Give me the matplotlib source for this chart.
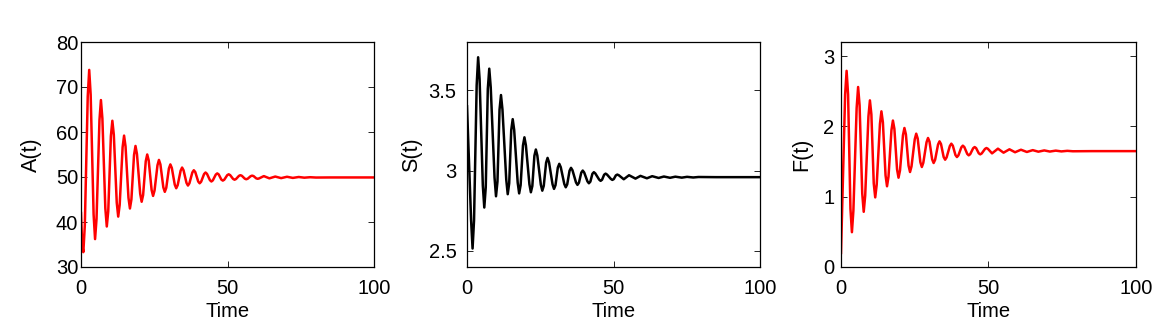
#!/usr/bin/env python3

import matplotlib

matplotlib.use("Agg")
import matplotlib.pyplot as plt

# A(t): values (extrema plus a point each side of them)
time_a = [0.0, 0.4, 0.8, 1.3, 2.3, 2.8, 3.3, 4.3, 4.8, 5.3, 6.3, 6.8, 7.3,
          8.3, 8.8, 9.3, 10.2, 10.7, 11.2, 12.2, 12.7, 13.2, 14.2, 14.7, 15.2,
          16.2, 16.7, 17.2, 18.1, 18.6, 19.1, 20.2, 20.7, 21.2, 22.1, 22.6,
          23.1, 24.1, 24.6, 25.1, 26.1, 26.6, 27.1, 28.1, 28.6, 29.1, 30.0,
          30.5, 31.0, 32.0, 32.5, 33.0, 34.0, 34.5, 35.0, 36.0, 36.5, 37.0,
          38.0, 38.5, 39.0, 40.0, 40.5, 41.0, 42.0, 42.5, 43.0, 44.0, 44.5,
          45.0, 46.0, 46.5, 47.0, 47.9, 48.4, 48.9, 49.9, 50.4, 50.9, 51.9,
          52.4, 52.9, 53.9, 54.4, 54.9, 55.9, 56.4, 56.9, 57.9, 58.4, 58.9,
          59.8, 60.3, 60.8, 62.4, 64.3, 66.3, 68.3, 70.3, 72.3, 74.3, 76.2,
          78.2, 80.2, 85.0, 100.0]
values_a = [42.0, 35.0, 33.3, 39.2, 67.9, 73.8, 68.3, 41.7, 36.2, 40.7, 62.6,
            67.1, 63.0, 43.1, 39.0, 42.4, 59.1, 62.5, 59.4, 44.3, 41.2, 43.8,
            56.6, 59.2, 56.8, 45.4, 43.0, 45.0, 54.9, 56.9, 55.1, 46.3, 44.5,
            46.0, 53.5, 55.0, 53.7, 47.1, 45.8, 47.0, 52.6, 53.8, 52.8, 47.7,
            46.7, 47.6, 51.9, 52.8, 52.0, 48.3, 47.5, 48.2, 51.4, 52.1, 51.5,
            48.7, 48.1, 48.6, 51.0, 51.5, 51.1, 49.0, 48.6, 48.95, 50.65, 51.0,
            50.7, 49.3, 49.0, 49.26, 50.54, 50.8, 50.57, 49.43, 49.2, 49.4,
            50.4, 50.6, 50.42, 49.58, 49.4, 49.55, 50.25, 50.4, 50.27, 49.63,
            49.5, 49.62, 50.18, 50.3, 50.2, 49.7, 49.6, 49.69, 50.2, 49.7,
            50.1, 49.75, 50.05, 49.8, 50.0, 49.85, 49.95, 49.88, 49.9, 49.9]

# S(t)
time_s = [0.0, 1.4, 1.9, 2.4, 3.3, 3.8, 4.3, 5.4, 5.9, 6.4, 7.1, 7.6, 8.1,
          9.4, 9.9, 10.4, 11.1, 11.6, 12.1, 13.4, 13.9, 14.4, 15.1, 15.6,
          16.1, 17.3, 17.8, 18.3, 19.1, 19.6, 20.1, 21.3, 21.8, 22.3, 23.0,
          23.5, 24.0, 25.2, 25.7, 26.2, 27.0, 27.5, 28.0, 29.2, 29.7, 30.2,
          31.0, 31.5, 32.0, 33.2, 33.7, 34.2, 35.0, 35.5, 36.0, 37.2, 37.7,
          38.2, 39.0, 39.5, 40.0, 41.1, 41.6, 42.1, 42.8, 43.3, 43.8, 45.1,
          45.6, 46.1, 46.8, 47.3, 47.8, 49.1, 49.6, 50.1, 50.8, 51.3, 51.8,
          53.5, 55.3, 57.5, 59.2, 61.4, 63.2, 65.4, 67.2, 69.3, 71.1, 73.3,
          75.1, 77.2, 79.0, 85.0, 100.0]
values_s = [3.40, 2.69, 2.515, 2.69, 3.531, 3.705, 3.568, 2.907, 2.77, 2.896,
            3.508, 3.634, 3.518, 2.956, 2.84, 2.932, 3.378, 3.47, 3.38, 2.943,
            2.853, 2.921, 3.252, 3.32, 3.253, 2.925, 2.858, 2.909, 3.156,
            3.207, 3.157, 2.915, 2.865, 2.904, 3.092, 3.131, 3.094, 2.912,
            2.875, 2.905, 3.049, 3.079, 3.051, 2.914, 2.886, 2.909, 3.019,
            3.042, 3.021, 2.917, 2.896, 2.914, 2.999, 3.017, 3.002, 2.926,
            2.911, 2.924, 2.987, 3.000, 2.988, 2.933, 2.921, 2.931, 2.980,
            2.990, 2.982, 2.944, 2.936, 2.943, 2.974, 2.981, 2.975, 2.948,
            2.942, 2.947, 2.970, 2.975, 2.971, 2.946, 2.971, 2.950, 2.967,
            2.952, 2.965, 2.954, 2.963, 2.955, 2.962, 2.956, 2.961, 2.957,
            2.960, 2.959, 2.959]

# F(t)
time_f = [0.0, 1.4, 1.9, 2.4, 3.2, 3.7, 4.2, 5.3, 5.8, 6.3, 7.2, 7.7, 8.2,
          9.3, 9.8, 10.3, 11.1, 11.6, 12.1, 13.2, 13.7, 14.2, 15.1, 15.6,
          16.1, 17.1, 17.6, 18.1, 19.0, 19.5, 20.0, 21.0, 21.5, 22.0, 22.9,
          23.4, 23.9, 25.0, 25.5, 26.0, 26.9, 27.4, 27.9, 29.0, 29.5, 30.0,
          30.9, 31.4, 31.9, 32.9, 33.4, 33.9, 34.8, 35.3, 35.8, 36.9, 37.4,
          37.9, 38.8, 39.3, 39.8, 40.8, 41.3, 41.8, 42.8, 43.3, 43.8, 44.8,
          45.3, 45.8, 46.7, 47.2, 47.7, 48.8, 49.3, 49.8, 51.2, 53.2, 55.1,
          57.1, 59.0, 61.0, 63.0, 65.0, 66.9, 68.9, 70.8, 72.8, 74.7, 76.7,
          78.6, 85.0, 100.0]
values_f = [0.20, 2.455, 2.79, 2.455, 0.83, 0.495, 0.80, 2.26, 2.56, 2.30,
            1.045, 0.785, 1.015, 2.14, 2.37, 2.17, 1.19, 0.99, 1.17, 2.034,
            2.214, 2.058, 1.304, 1.148, 1.285, 1.946, 2.083, 1.964, 1.389,
            1.27, 1.373, 1.874, 1.977, 1.886, 1.442, 1.351, 1.431, 1.816,
            1.896, 1.827, 1.491, 1.422, 1.482, 1.775, 1.835, 1.783, 1.531,
            1.479, 1.524, 1.742, 1.787, 1.749, 1.564, 1.526, 1.559, 1.721,
            1.754, 1.726, 1.592, 1.564, 1.588, 1.702, 1.726, 1.706, 1.608,
            1.588, 1.605, 1.689, 1.706, 1.691, 1.617, 1.602, 1.615, 1.679,
            1.692, 1.681, 1.616, 1.683, 1.626, 1.674, 1.632, 1.668, 1.636,
            1.662, 1.640, 1.658, 1.642, 1.655, 1.644, 1.652, 1.646, 1.648,
            1.648]

panels = [
    (time_a, values_a, "red", "A(t)", (30, 80), [30, 40, 50, 60, 70, 80], ["30", "40", "50", "60", "70", "80"]),
    (time_s, values_s, "black", "S(t)", (2.4, 3.8), [2.5, 3.0, 3.5], ["2.5", "3", "3.5"]),
    (time_f, values_f, "red", "F(t)", (0, 3.2), [0, 1, 2, 3], ["0", "1", "2", "3"]),
]
lefts = [81 / 1168, 467 / 1168, 841 / 1168]
widths = [293 / 1168, 293 / 1168, 295 / 1168]
ytick_pads = [2, 7.5, 4.8]
ylabel_x = [-0.133, -0.154, -0.096]

plt.rcParams["font.family"] = ["Liberation Sans", "DejaVu Sans"]
plt.rcParams["font.size"] = 14.5

fig = plt.figure(figsize=(11.68, 3.26), dpi=100)

for i, (t, v, color, label, ylim, yticks, yticklabels) in enumerate(panels):
    ax = fig.add_axes([lefts[i], 59 / 326, widths[i], 225 / 326])
    ax.plot(t, v, color=color, linewidth=1.8)
    ax.set_xlim(0, 100)
    ax.set_ylim(*ylim)
    ax.set_xticks([0, 50, 100])
    ax.set_xticklabels(["0", "50", "100"])
    ax.set_yticks(yticks)
    ax.set_yticklabels(yticklabels)
    ax.set_xlabel("Time", labelpad=3)
    ax.set_ylabel(label, fontsize=15.5)
    ax.yaxis.set_label_coords(ylabel_x[i], 0.5)
    ax.tick_params(direction="in", top=True, right=True, length=4, width=0.6)
    ax.tick_params(axis="x", pad=8.5)
    ax.tick_params(axis="y", pad=ytick_pads[i])
    for s in ax.spines.values():
        s.set_linewidth(0.9)

plt.savefig("out.png", dpi=100)
